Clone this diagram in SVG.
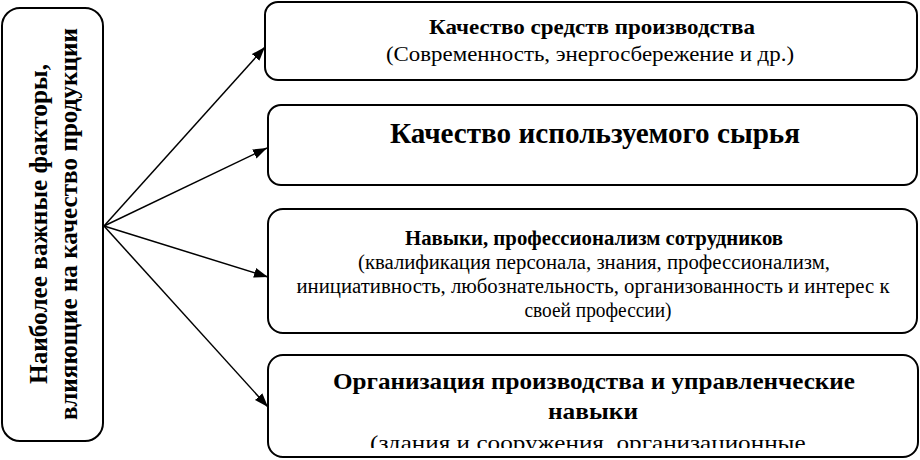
<svg xmlns="http://www.w3.org/2000/svg" width="920" height="460" viewBox="0 0 920 460">
  <defs>
    <marker id="ah" viewBox="0 0 14 10" refX="14" refY="5" markerWidth="14" markerHeight="10" markerUnits="userSpaceOnUse" orient="auto">
      <path d="M0,0 L14,5 L0,10 Z" fill="#000"/>
    </marker>
    <clipPath id="cut">
      <rect x="268" y="425" width="649" height="23"/>
    </clipPath>
  </defs>
  <style>
    .box { fill: #fff; stroke: #000; stroke-width: 2; }
    .t { font-family: "Liberation Serif", "Times New Roman", "DejaVu Serif", serif; fill: #000; text-anchor: middle; }
    .b { font-weight: bold; }
    .con { stroke: #000; stroke-width: 1.5; fill: none; marker-end: url(#ah); }
  </style>
  <rect width="920" height="460" fill="#fff"/>

  <g id="root">
    <rect class="box" x="2" y="8" width="101" height="433" rx="18"/>
    <text class="t b" font-size="26" transform="translate(47,224) rotate(-90)" textLength="320" lengthAdjust="spacingAndGlyphs">Наиболее важные факторы,</text>
    <text class="t b" font-size="25" transform="translate(77,224) rotate(-90)" textLength="392" lengthAdjust="spacingAndGlyphs">влияющие на качество продукции</text>
  </g>

  <g id="n1">
    <rect class="box" x="265" y="2" width="652" height="78" rx="13"/>
    <text class="t b" font-size="21" x="592" y="34" textLength="326" lengthAdjust="spacingAndGlyphs">Качество средств производства</text>
    <text class="t" font-size="20" x="590" y="61" textLength="408" lengthAdjust="spacingAndGlyphs">(Современность, энергосбережение и др.)</text>
  </g>

  <g id="n2">
    <rect class="box" x="268" y="105" width="649" height="80" rx="13"/>
    <text class="t b" font-size="29" x="595" y="143" textLength="410" lengthAdjust="spacingAndGlyphs">Качество используемого сырья</text>
  </g>

  <g id="n3">
    <rect class="box" x="268" y="209" width="649" height="124" rx="15"/>
    <text class="t b" font-size="20" x="594" y="245" textLength="378" lengthAdjust="spacingAndGlyphs">Навыки, профессионализм сотрудников</text>
    <text class="t" font-size="20" x="594" y="269" textLength="472" lengthAdjust="spacingAndGlyphs">(квалификация персонала, знания, профессионализм,</text>
    <text class="t" font-size="20" x="593" y="293" textLength="593" lengthAdjust="spacingAndGlyphs">инициативность, любознательность, организованность и интерес к</text>
    <text class="t" font-size="20" x="598" y="317" textLength="147" lengthAdjust="spacingAndGlyphs">своей профессии)</text>
  </g>

  <g id="n4">
    <rect class="box" x="268" y="355" width="650" height="102" rx="15"/>
    <text class="t b" font-size="24" x="594" y="389" textLength="522" lengthAdjust="spacingAndGlyphs">Организация производства и управленческие</text>
    <text class="t b" font-size="24" x="593" y="419" textLength="90" lengthAdjust="spacingAndGlyphs">навыки</text>
    <text class="t" font-size="22" x="591" y="450" textLength="442" lengthAdjust="spacingAndGlyphs" clip-path="url(#cut)">(здания и сооружения, организационные,</text>
  </g>

  <g id="connectors">
    <line class="con" x1="104" y1="226" x2="265" y2="47"/>
    <line class="con" x1="104" y1="226" x2="267" y2="148"/>
    <line class="con" x1="104" y1="226" x2="268" y2="277"/>
    <line class="con" x1="104" y1="226" x2="268" y2="407"/>
  </g>
</svg>
